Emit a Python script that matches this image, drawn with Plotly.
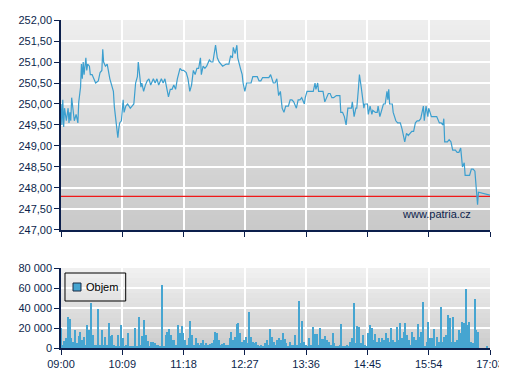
import plotly.graph_objects as go
import pandas as pd

# ---------------- data ----------------
session_day = "2024-01-02"
session_start = "09:00"
session_end = "17:03"

time_ticks = ["09:00", "10:09", "11:18", "12:27", "13:36", "14:45", "15:54", "17:03"]
price_ticks = [247.0, 247.5, 248.0, 248.5, 249.0, 249.5, 250.0, 250.5, 251.0, 251.5, 252.0]
volume_ticks = [0, 20000, 40000, 60000, 80000]

prev_close = 247.80

# minutes after 09:00
price_minutes = [0, 1, 2, 3, 4, 6, 8, 9, 10, 11, 12, 13, 15, 17, 19, 20, 22, 23, 24, 25,
                 26, 28, 29, 30, 32, 33, 35, 37, 39, 42, 44, 46, 47, 48, 50, 52, 53, 55, 57, 59,
                 60, 62, 64, 65, 66, 68, 70, 71, 73, 75, 78, 80, 82, 84, 86, 87, 88, 90, 91, 93,
                 95, 97, 99, 101, 104, 106, 108, 110, 113, 115, 117, 119, 121, 123, 125, 127, 129, 131, 134, 136,
                 138, 141, 143, 145, 147, 149, 151, 153, 155, 157, 158, 160, 162, 164, 167, 169, 171, 174, 176, 178,
                 180, 182, 186, 189, 191, 193, 194, 196, 198, 199, 202, 204, 205, 207, 209, 212, 214, 216, 218, 221,
                 223, 225, 227, 231, 234, 236, 239, 241, 243, 245, 247, 249, 251, 253, 256, 258, 260, 262, 265, 267,
                 269, 271, 274, 275, 277, 279, 281, 284, 286, 287, 289, 290, 293, 295, 297, 298, 301, 303, 305, 307,
                 310, 312, 314, 315, 317, 319, 321, 323, 325, 327, 328, 330, 332, 333, 335, 336, 338, 339, 341, 342,
                 345, 346, 348, 350, 351, 354, 356, 357, 359, 361, 363, 365, 367, 368, 369, 370, 373, 374, 377, 379,
                 382, 384, 386, 387, 389, 391, 393, 395, 397, 399, 401, 403, 405, 408, 409, 411, 413, 414, 417, 419,
                 421, 423, 426, 428, 430, 431, 432, 435, 437, 439, 441, 444, 446, 448, 450, 452, 454, 455, 458, 460,
                 462, 464, 466, 467, 468, 469, 470, 483]

price_values = [250.00, 249.50, 250.10, 249.45, 249.90, 249.60, 249.90, 249.55, 249.80, 249.60,
                250.15, 249.90, 249.60, 249.75, 249.55, 250.05, 250.40, 250.95, 250.60, 251.00,
                250.70, 251.10, 250.80, 250.95, 250.90, 250.70, 250.70, 250.60, 250.50, 250.55,
                250.75, 250.80, 251.30, 251.00, 250.90, 250.95, 250.80, 250.60, 250.45, 250.30,
                249.95, 249.50, 249.20, 249.40, 249.55, 249.60, 250.10, 249.80, 249.95, 250.00,
                249.90, 249.95, 250.00, 250.50, 250.65, 251.00, 250.80, 250.40, 250.50, 250.30,
                250.45, 250.55, 250.60, 250.45, 250.60, 250.50, 250.60, 250.45, 250.60, 250.50,
                250.60, 250.40, 250.17, 250.35, 250.35, 250.45, 250.35, 250.60, 250.85, 250.80,
                250.80, 250.75, 250.60, 250.30, 250.45, 250.80, 250.70, 250.85, 250.85, 251.10,
                250.70, 250.90, 250.85, 250.90, 251.05, 251.00, 251.00, 251.40, 251.10, 251.00,
                250.95, 250.90, 250.95, 250.95, 251.15, 251.10, 251.35, 251.20, 251.40, 251.10,
                250.85, 250.70, 250.50, 250.30, 250.50, 250.50, 250.50, 250.65, 250.65, 250.65,
                250.55, 250.55, 250.63, 250.63, 250.63, 250.70, 250.50, 250.50, 250.60, 250.20,
                250.30, 249.90, 249.80, 249.95, 249.95, 250.10, 250.10, 250.05, 249.90, 250.10,
                250.10, 250.15, 250.00, 250.15, 250.30, 250.30, 250.30, 250.30, 250.50, 250.35,
                250.50, 250.30, 250.30, 250.30, 250.05, 250.10, 250.25, 250.25, 250.15, 250.15,
                250.20, 250.20, 250.20, 249.80, 249.80, 249.70, 249.50, 249.90, 249.90, 249.90,
                250.05, 249.70, 249.90, 249.90, 250.40, 250.70, 250.40, 250.20, 249.90, 250.00,
                250.00, 249.75, 249.95, 249.75, 249.85, 249.80, 249.80, 249.95, 249.70, 249.85,
                250.00, 250.00, 250.30, 250.10, 250.35, 250.00, 250.00, 249.80, 249.60, 249.55,
                249.55, 249.40, 249.20, 249.10, 249.30, 249.25, 249.30, 249.35, 249.35, 249.55,
                249.60, 249.60, 249.65, 249.95, 249.60, 249.95, 249.70, 249.90, 249.70, 249.70,
                249.70, 249.70, 249.55, 249.55, 249.50, 249.65, 249.10, 249.10, 249.15, 249.10,
                248.90, 248.90, 248.85, 248.85, 248.95, 248.50, 248.60, 248.30, 248.30, 248.30,
                248.45, 248.45, 248.40, 248.10, 247.85, 247.60, 247.90, 247.83]

# traded volume, one value per 2-minute interval from 09:00
volume_step_minutes = 2
volume_values = [
    20000, 3000, 7000, 10000, 31000, 29000, 10000, 6000, 18000, 5000,
    12000, 16000, 8000, 10700, 3000, 23000, 18000, 45000, 13000, 3000,
    3000, 39000, 3000, 18000, 3000, 11000, 3000, 25000, 12000, 13000,
    3000, 2000, 13000, 2000, 23000, 10000, 2000, 3000, 15000, 2000,
    2000, 2000, 20000, 2000, 31000, 3000, 12000, 28000, 13000, 7000,
    2000, 6000, 6000, 5000, 3000, 3000, 2000, 63000, 2000, 13000,
    16000, 19000, 13000, 8000, 8000, 3000, 23000, 15000, 22000, 15000,
    8000, 3000, 10000, 27000, 13000, 3000, 10000, 5000,
    3000, 4700, 8000, 3000, 4700, 3000, 4000, 4700, 8000, 16300,
    15000, 8000, 3000, 4000, 4700, 3000, 3000, 9700, 16300, 8000,
    11300, 24000, 25300, 14700, 6300, 8000, 11300, 4700, 36300, 11300,
    6300, 4700, 6300, 3000, 2000, 3000, 2000, 5000, 8000, 3000,
    19000, 11000, 6300, 3000, 8000,
    10000, 8000, 15300, 8700, 4700, 1300, 6300, 3000, 3000, 13000,
    3000, 47000, 4700, 27300, 6300, 3000, 1300, 9700, 3000, 21300,
    14000, 14000, 3000, 20300, 8700, 8700, 12000, 8000, 6300, 3000,
    15300, 4700, 1300, 1300, 3000, 24000, 1300, 1300, 3000, 1300,
    6300, 9700, 45300, 4700, 22000, 21300, 4700, 13000, 3000, 1300,
    14700, 23000, 19700, 8000, 14000, 6300, 9700, 6300, 9700, 8000,
    14700, 9700, 6300, 19700, 8000, 6300, 21300, 8000, 24600, 9700,
    16300, 24600, 13000, 8000, 3000, 16300, 11300, 8000, 23600, 11300,
    16300, 45600, 1300, 6300, 25600, 9700, 9700, 18700, 1300, 10700,
    6300, 40600, 6300, 11300, 13000, 33000, 29600, 6300, 31300, 6300,
    8000, 18000, 14700, 26300, 24600, 58600, 23000, 26300, 6300, 4700,
    48600, 18000, 16000, 0, 0, 0, 0, 2500, 0,
]

assert len(price_minutes) == len(price_values)

# ---------------- derived ----------------
t0 = pd.Timestamp(f"{session_day} {session_start}")
price_times = [t0 + pd.Timedelta(minutes=m) for m in price_minutes]
volume_times = [t0 + pd.Timedelta(minutes=volume_step_minutes * i) for i in range(len(volume_values))]
tick_times = [pd.Timestamp(f"{session_day} {t}") for t in time_ticks]
x_range = [pd.Timestamp(f"{session_day} {session_start}"), pd.Timestamp(f"{session_day} {session_end}")]

NAVY = "#0c1f4c"
BLUE = "#46a5d1"
FONT = "Liberation Sans, Arial, sans-serif"

fig = go.Figure()

# previous close reference line (drawn first, under the price line)
fig.add_trace(go.Scatter(
    x=x_range, y=[prev_close, prev_close], mode="lines", name="Předchozí závěr",
    line=dict(color="#f01818", width=1.3), xaxis="x", yaxis="y",
    showlegend=False, hoverinfo="skip",
))

fig.add_trace(go.Scatter(
    x=price_times, y=price_values, mode="lines", name="Cena",
    line=dict(color="#3c9fcf", width=1.2), xaxis="x", yaxis="y",
    showlegend=False, hoverinfo="skip",
))

fig.add_trace(go.Bar(
    x=volume_times, y=volume_values, name="Objem",
    marker=dict(color=BLUE, line=dict(width=0)),
    width=100000, xaxis="x2", yaxis="y2", showlegend=False, hoverinfo="skip",
))

shapes = []


def gradient(xref, yref, n, c_top, c_bot):
    for i in range(n):
        t = i / (n - 1)
        c = int(round(c_top + (c_bot - c_top) * t))
        y1 = 1 - i / n
        y0 = max(0, 1 - (i + 1) / n - 0.003)
        shapes.append(dict(type="rect", xref=xref, yref=yref, x0=0, x1=1, y0=y0, y1=y1,
                           fillcolor=f"rgb({c},{c},{c})", line=dict(width=0), layer="below"))


gradient("x domain", "y domain", 42, 238, 201)
gradient("x2 domain", "y2 domain", 16, 240, 205)

# manual legend box
shapes.append(dict(type="rect", xref="x2 domain", yref="y2 domain",
                   x0=0.0093, x1=0.1508, y0=0.5875, y1=0.9375,
                   line=dict(color="#000000", width=1), fillcolor="rgba(0,0,0,0)", layer="above"))
shapes.append(dict(type="rect", xref="x2 domain", yref="y2 domain",
                   x0=0.028, x1=0.0466, y0=0.7125, y1=0.8125,
                   line=dict(color="#1a2a44", width=1), fillcolor=BLUE, layer="above"))

annotations = [
    dict(text="Objem", xref="x2 domain", yref="y2 domain", x=0.0536, y=0.7625,
         xanchor="left", yanchor="middle", showarrow=False,
         font=dict(family=FONT, size=11, color="#000000")),
    dict(text="www.patria.cz", xref="x domain", yref="y domain", x=0.9604, y=0.0762,
         xanchor="right", yanchor="middle", showarrow=False,
         font=dict(family=FONT, size=11, color=NAVY)),
]

axis_common = dict(
    showline=True, linecolor=NAVY, linewidth=1.5, mirror=False,
    ticks="outside", ticklen=5, tickcolor=NAVY, tickwidth=1,
    showgrid=True, gridcolor="#ffffff", gridwidth=2, zeroline=False,
    tickfont=dict(family=FONT, size=11, color=NAVY),
    automargin=False,
)

# the page body adds an 8 px offset, so the figure is 8 px smaller on each axis
fig.update_layout(
    width=499, height=372,
    margin=dict(l=53, r=17, t=12, b=32, pad=0, autoexpand=False),
    paper_bgcolor="#ffffff", plot_bgcolor="#d8d8d8",
    separators=", ",
    showlegend=False,
    bargap=0,
    shapes=shapes,
    annotations=annotations,
    xaxis=dict(axis_common, type="date", domain=[0, 1], anchor="y",
               range=x_range, tickvals=tick_times, ticktext=time_ticks,
               showticklabels=False),
    yaxis=dict(axis_common, domain=[0.3598, 1], anchor="x",
               range=[price_ticks[0], price_ticks[-1]], tickvals=price_ticks,
               tickformat=",.2f"),
    xaxis2=dict(axis_common, type="date", domain=[0, 1], anchor="y2",
                range=x_range, tickvals=tick_times, ticktext=time_ticks),
    yaxis2=dict(axis_common, domain=[0, 0.2439], anchor="x2",
                range=[volume_ticks[0], volume_ticks[-1]], tickvals=volume_ticks,
                tickformat=",d"),
)

fig.write_html("out.html")
